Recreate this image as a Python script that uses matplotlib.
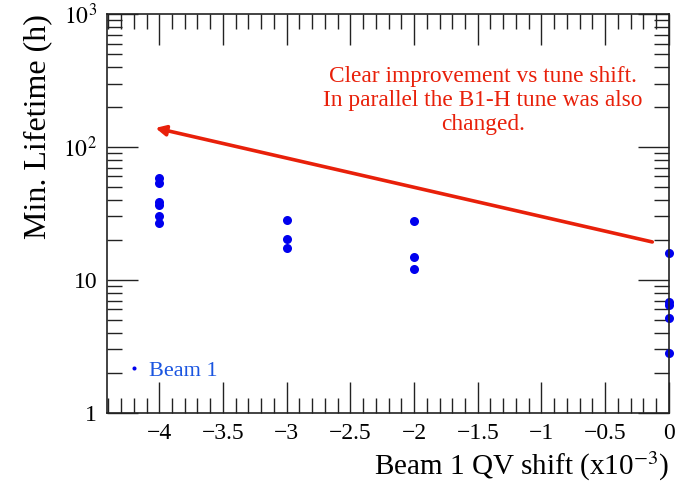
import matplotlib.pyplot as plt
from matplotlib.ticker import FixedLocator, FuncFormatter, LogLocator, MultipleLocator
import numpy as np

plt.rcParams['font.family'] = ['Liberation Serif', 'DejaVu Serif']
plt.rcParams['mathtext.fontset'] = 'stix'

# QV shift (x1e-3) and minimum lifetime (h)
shift = [-4, -4, -4, -4, -4, -4,
         -3, -3, -3,
         -2, -2, -2,
         0, 0, 0, 0, 0]
lifetime = [58.5, 54.0, 38.6, 36.6, 30.3, 26.8,
            28.3, 20.3, 17.4,
            27.8, 14.9, 12.1,
            16.0, 6.8, 6.5, 5.2, 2.8]

arrow_start = (-0.13, 19.3)
arrow_end = (-4.03, 139)
note = "Clear improvement vs tune shift.\nIn parallel the B1-H tune was also\nchanged."

fig = plt.figure(figsize=(6.86, 4.84), dpi=100)
ax = fig.add_axes([0.156, 0.147, 0.819, 0.824])

ax.plot(shift, lifetime, 'o', color='#0000ee', markersize=6.5,
        markeredgewidth=0, label='Beam 1', linestyle='none', clip_on=False)

ax.set_yscale('log')
ax.set_xlim(-4.41, 0.0)
ax.set_ylim(1, 1000)

# ROOT-like ticks: inside, on all four sides
ax.xaxis.set_major_locator(MultipleLocator(0.5))
ax.xaxis.set_minor_locator(MultipleLocator(0.1))
ax.yaxis.set_major_locator(FixedLocator([1, 10, 100, 1000]))
ax.yaxis.set_minor_locator(LogLocator(base=10, subs=np.arange(2, 10)))

def ylab(v, pos):
    if v < 50:
        return '%d' % v
    return r'$10^{%d}$' % round(np.log10(v))

ax.yaxis.set_major_formatter(FuncFormatter(ylab))
ax.yaxis.set_minor_formatter(FuncFormatter(lambda v, p: ''))
ax.xaxis.set_major_formatter(FuncFormatter(
    lambda v, p: '0' if abs(v) < 1e-9 else ('%g' % v).replace('-', '\u2212')))

ax.tick_params(which='both', direction='in', top=True, right=True,
               labelsize=17, width=1.0, color='#222222')
ax.tick_params(which='major', length=22, pad=7)
ax.tick_params(which='minor', length=11)
for s in ax.spines.values():
    s.set_linewidth(1.2)
    s.set_color('#222222')

ax.set_xlabel('Beam 1 QV shift (x10$^{-3}$)', fontsize=21, loc='right', labelpad=4.5)
ax.set_ylabel('Min. Lifetime (h)', fontsize=23, loc='top', labelpad=8)

ax.annotate('', xy=arrow_end, xytext=arrow_start,
            arrowprops=dict(arrowstyle='-|>', color='#e8200a', lw=2.6,
                            mutation_scale=15, shrinkA=0, shrinkB=0))
ax.text(0.669, 0.784, note, transform=ax.transAxes, ha='center', va='center',
        color='#e8200a', fontsize=16.8, linespacing=1.18)

ax.legend(loc='lower left', bbox_to_anchor=(0.0, 0.03), frameon=False,
          markerscale=0.45, handlelength=0.6, handletextpad=0.4,
          fontsize=16, labelcolor='#1a55e0')

plt.savefig('out.png', dpi=100)
